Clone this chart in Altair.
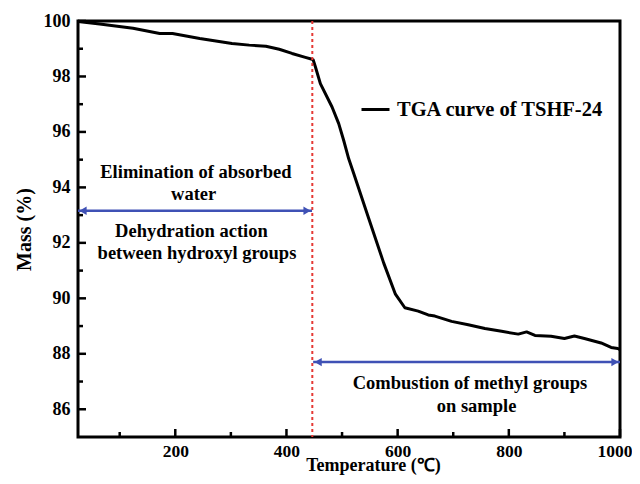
import altair as alt
import pandas as pd

# ---- data ----
temperature = [25, 29, 64, 124, 172, 195, 244, 302, 333, 363, 387, 410, 434, 446,
               448, 452, 461, 482, 494, 503, 512, 521, 548, 575, 596, 613, 637, 655,
               667, 697, 727, 757, 787, 817, 832, 847, 876, 900, 918, 936, 966, 984,
               996, 1000]
mass = [100.0, 99.97, 99.89, 99.74, 99.55, 99.55, 99.37, 99.19, 99.13, 99.09, 98.98,
        98.83, 98.69, 98.62, 98.60, 98.35, 97.74, 96.90, 96.30, 95.69, 95.03, 94.50,
        92.88, 91.27, 90.15, 89.66, 89.54, 89.40, 89.36, 89.17, 89.05, 88.91, 88.81,
        88.71, 88.79, 88.66, 88.63, 88.55, 88.64, 88.55, 88.39, 88.23, 88.19, 88.15]
series_name = "TGA curve of TSHF-24"

x_major = [200, 400, 600, 800, 1000]
x_minor = [100, 300, 500, 700, 900]
y_major = [86, 88, 90, 92, 94, 96, 98, 100]
y_minor = [87, 89, 91, 93, 95, 97, 99]

divider_T = [446.5]

arrow_start = [25, 448]
arrow_end = [446, 1000]
arrow_mass = [93.16, 87.70]

text_lines = ["Elimination of absorbed", "water", "Dehydration action",
              "between hydroxyl groups", "Combustion of methyl groups", "on sample"]
text_T = [237, 233, 229, 239, 730, 742]
text_mass = [94.57, 93.77, 92.43, 91.64, 86.94, 86.10]

# ---- styling ----
W, H = 542, 416
FONT = "Liberation Serif"
BLUE = "#3F51B5"
RED = "#E53935"

xscale = alt.Scale(domain=[25, 1000], nice=False, zero=False)
yscale = alt.Scale(domain=[85, 100], nice=False, zero=False)

x_axis = alt.Axis(title="Temperature (℃)", values=x_major, format="d", ticks=False,
                  domain=False, grid=False, labelFont=FONT, labelFontSize=17.5,
                  labelFontWeight="bold", labelColor="black", labelPadding=5,
                  labelFlush=True, labelFlushOffset=12, titleFont=FONT,
                  titleFontSize=18, titleFontWeight="bold", titleColor="black",
                  titlePadding=-3, titleX=295)
y_axis = alt.Axis(title="Mass (%)", values=y_major, format="d", ticks=False, domain=False,
                  grid=False, labelFont=FONT, labelFontSize=18, labelFontWeight="bold",
                  labelColor="black", labelPadding=8, labelFlush=False,
                  titleFont=FONT, titleFontSize=20, titleFontWeight="bold",
                  titleColor="black", titlePadding=9)


def X(field):
    return alt.X(field, scale=xscale, axis=x_axis, title="Temperature (℃)")


def Y(field):
    return alt.Y(field, scale=yscale, axis=y_axis, title="Mass (%)")


curve_df = pd.DataFrame({"T": temperature, "M": mass, "s": [series_name] * len(mass)})

curve = alt.Chart(curve_df).mark_line(strokeWidth=3, strokeJoin="round").encode(
    x=X("T:Q"),
    y=Y("M:Q"),
    order="T:Q",
    color=alt.Color("s:N", scale=alt.Scale(domain=[series_name], range=["black"]),
                    legend=alt.Legend(title=None, orient="none", legendX=282, legendY=73,
                                      symbolType="stroke", symbolSize=784,
                                      symbolStrokeWidth=3, labelFont=FONT,
                                      labelFontSize=20.5, labelFontWeight="bold",
                                      labelColor="black", labelOffset=6, padding=0,
                                      labelLimit=400)),
)

divider = alt.Chart(pd.DataFrame({"T": divider_T})).mark_rule(
    color=RED, strokeDash=[3, 3], strokeWidth=2).encode(x=X("T:Q"))

arrows_df = pd.DataFrame({"a": arrow_start, "b": arrow_end, "m": arrow_mass})
arrow_lines = alt.Chart(arrows_df).mark_rule(color=BLUE, strokeWidth=2.5).encode(
    x=X("a:Q"), x2="b:Q", y=Y("m:Q"))
heads_left = alt.Chart(arrows_df).mark_point(
    shape="triangle-left", filled=True, color=BLUE, size=70, opacity=1, xOffset=5).encode(
    x=X("a:Q"), y=Y("m:Q"))
heads_right = alt.Chart(arrows_df).mark_point(
    shape="triangle-right", filled=True, color=BLUE, size=70, opacity=1, xOffset=-5).encode(
    x=X("b:Q"), y=Y("m:Q"))

text_df = pd.DataFrame({"t": text_lines, "T": text_T, "m": text_mass})
texts = alt.Chart(text_df).mark_text(font=FONT, fontSize=18.5, fontWeight="bold",
                                      color="black", align="center",
                                      baseline="middle").encode(
    x=X("T:Q"), y=Y("m:Q"), text="t:N")


# inward ticks
def xticks(vals, ln):
    return alt.Chart(pd.DataFrame({"T": vals})).mark_rule(color="black", strokeWidth=2.5).encode(
        x=X("T:Q"), y=alt.value(H), y2=alt.value(H - ln))


def yticks(vals, ln):
    return alt.Chart(pd.DataFrame({"M": vals})).mark_rule(color="black", strokeWidth=2.5).encode(
        y=Y("M:Q"), x=alt.value(0), x2=alt.value(ln))


chart = alt.layer(
    curve, divider, arrow_lines, heads_left, heads_right, texts,
    xticks(x_major, 8), xticks(x_minor, 5), yticks(y_major, 8), yticks(y_minor, 5),
).properties(
    width=W, height=H,
    padding={"left": 70, "top": 13, "right": 12, "bottom": 39},
    autosize=alt.AutoSizeParams(type="none"),
).configure_view(stroke="black", strokeWidth=3)

chart.save("out.html", embed_options={"renderer": "svg", "actions": False})
